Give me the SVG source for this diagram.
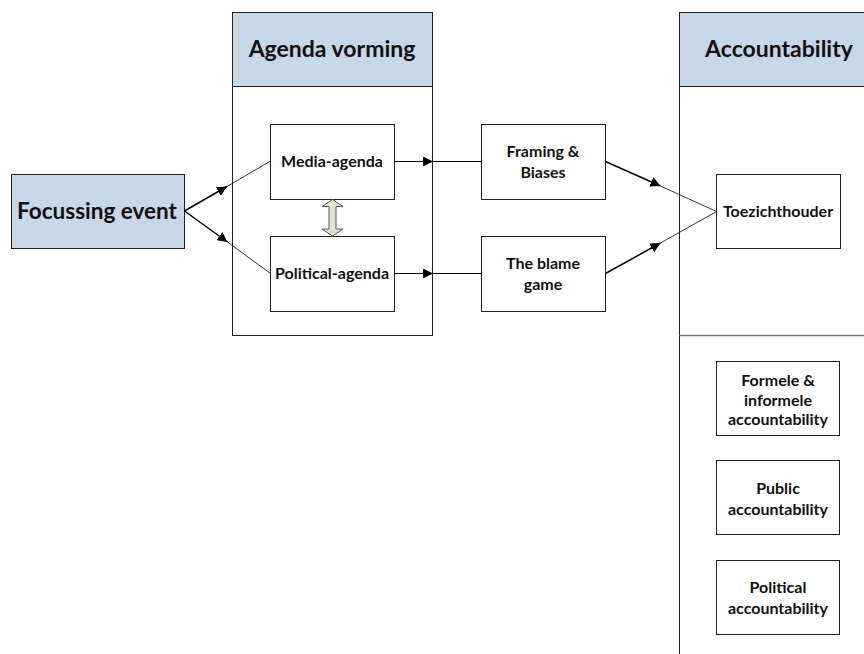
<svg xmlns="http://www.w3.org/2000/svg" width="864" height="654" viewBox="0 0 864 654">
<style>
.bg{fill:#ffffff}
.box{fill:#ffffff;stroke:#222;stroke-width:1}
.hdr{fill:#c8d7e6;stroke:#222;stroke-width:1}
.t{font-family:Lato,"Liberation Sans",sans-serif;font-weight:bold;fill:#111;text-anchor:middle}
.s{font-size:16px}
.h{font-size:23px}
.c{stroke:#000;fill:none}
</style>
<defs>
<marker id="ah" viewBox="0 0 10 10" refX="10" refY="5" markerWidth="10" markerHeight="10" markerUnits="userSpaceOnUse" orient="auto">
<path d="M0,0 L10,5 L0,10 z" fill="#000"/>
</marker>
</defs>
<rect class="bg" x="0" y="0" width="864" height="654"/>

<g id="agenda-vorming">
<rect class="box" x="232.5" y="12.5" width="200" height="323"/>
<rect class="hdr" x="232.5" y="12.5" width="200" height="74"/>
<text class="t h" x="332" y="57">Agenda vorming</text>
</g>

<g id="accountability">
<rect class="hdr" x="679.5" y="12.5" width="190" height="74"/>
<line x1="679.5" y1="86.5" x2="679.5" y2="654" stroke="#222" stroke-width="1"/>
<line x1="679.5" y1="335.5" x2="864" y2="335.5" stroke="#777" stroke-width="1.5"/>
<text class="t h" x="779" y="57">Accountability</text>
</g>

<g id="focussing-event">
<rect class="hdr" x="11.5" y="174.5" width="173" height="74"/>
<text class="t" x="97" y="219" font-size="22.5">Focussing event</text>
</g>

<g id="media-agenda">
<rect class="box" x="270.5" y="124.5" width="124" height="75"/>
<text class="t s" x="332" y="167">Media-agenda</text>
</g>

<g id="political-agenda">
<rect class="box" x="270.5" y="236.5" width="124" height="75"/>
<text class="t s" x="332" y="279">Political-agenda</text>
</g>

<g id="framing-biases">
<rect class="box" x="481.5" y="124.5" width="124" height="75"/>
<text class="t s" x="543" y="157">Framing &amp;</text>
<text class="t s" x="543" y="178">Biases</text>
</g>

<g id="blame-game">
<rect class="box" x="481.5" y="236.5" width="124" height="75"/>
<text class="t s" x="543" y="269">The blame</text>
<text class="t s" x="543" y="290">game</text>
</g>

<g id="toezichthouder">
<rect class="box" x="716.5" y="174.5" width="124" height="74"/>
<text class="t s" x="778" y="217">Toezichthouder</text>
</g>

<g id="formele">
<rect class="box" x="716.5" y="361.5" width="123" height="74"/>
<text class="t s" x="778" y="386">Formele &amp;</text>
<text class="t s" x="778" y="406">informele</text>
<text class="t s" x="778" y="425">accountability</text>
</g>

<g id="public">
<rect class="box" x="716.5" y="460.5" width="123" height="74"/>
<text class="t s" x="778" y="494">Public</text>
<text class="t s" x="778" y="515">accountability</text>
</g>

<g id="political-acc">
<rect class="box" x="716.5" y="560.5" width="123" height="74"/>
<text class="t s" x="778" y="593">Political</text>
<text class="t s" x="778" y="614">accountability</text>
</g>

<g id="connectors">
<line class="c" x1="184.5" y1="211" x2="227" y2="186.5" stroke-width="1.5" marker-end="url(#ah)"/>
<line class="c" x1="227" y1="186.5" x2="270.5" y2="161" stroke-width="0.8"/>
<line class="c" x1="184.5" y1="211" x2="227.5" y2="242" stroke-width="1.5" marker-end="url(#ah)"/>
<line class="c" x1="227.5" y1="242" x2="270.5" y2="273.5" stroke-width="0.8"/>
<line class="c" x1="394.5" y1="161.5" x2="433" y2="161.5" stroke-width="1.2" marker-end="url(#ah)"/>
<line class="c" x1="433" y1="161.5" x2="481.5" y2="161.5" stroke-width="1"/>
<line class="c" x1="394.5" y1="273.5" x2="433" y2="273.5" stroke-width="1.2" marker-end="url(#ah)"/>
<line class="c" x1="433" y1="273.5" x2="481.5" y2="273.5" stroke-width="1"/>
<line class="c" x1="605.5" y1="161.5" x2="660.5" y2="186" stroke-width="1.5" marker-end="url(#ah)"/>
<line class="c" x1="660.5" y1="186" x2="716.5" y2="211.5" stroke-width="0.8"/>
<line class="c" x1="605.5" y1="273.5" x2="660.5" y2="243" stroke-width="1.5" marker-end="url(#ah)"/>
<line class="c" x1="660.5" y1="243" x2="716.5" y2="211.5" stroke-width="0.8"/>
<polygon points="332.5,199.5 343,206.5 336,206.5 336,229 343,229 332.5,236 322,229 329,229 329,206.5 322,206.5" fill="#dfe3cf" stroke="#555" stroke-width="1"/>
</g>
</svg>
